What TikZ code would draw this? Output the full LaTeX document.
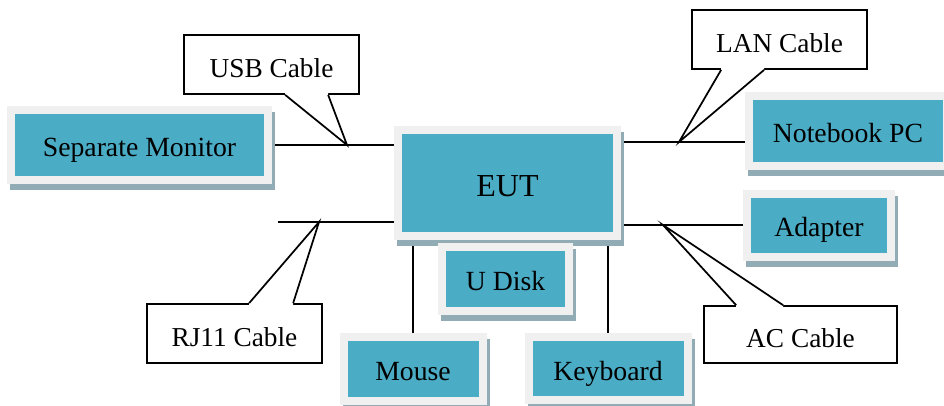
\documentclass[tikz,border=0pt]{standalone}
\usepackage{fontspec}
\setmainfont{Liberation Serif}
\usetikzlibrary{calc,backgrounds}
\definecolor{boxteal}{HTML}{4BACC6}
\definecolor{boxframe}{HTML}{F0F0F0}
\definecolor{boxshadow}{HTML}{92ACB6}

\begin{document}
\begin{tikzpicture}[x=0.75pt, y=-0.75pt,
  device/.style={rectangle, fill=boxteal, inner sep=0pt, outer sep=6pt,
                 font=\fontsize{20.8}{25}\selectfont, text height=19pt, text depth=1.5pt,
                 preaction={draw=boxshadow, fill=boxshadow, line width=12pt,
                            transform canvas={shift={(3,6)}}},
                 preaction={draw=boxframe, line width=12pt}},
  cable/.style={line width=1.3pt},
  tag/.style={rectangle, draw, fill=white, line width=1.3pt,
              inner sep=0pt, font=\fontsize{20.5}{25}\selectfont,
              text height=20.5pt, text depth=1.5pt,
              minimum width=131.25pt, minimum height=44.25pt},
  pointer/.style={line width=1.3pt, line join=miter},
]
  \useasboundingbox (0,0) rectangle (944,405);

  % Equipment under test and its peripherals
  \node[device, minimum width=158.25pt, minimum height=73.5pt,
        font=\fontsize{24}{28}\selectfont, text height=22pt, text depth=1.7pt] (eut) at (507.5,183) {EUT};
  \node[device, minimum width=186.75pt, minimum height=46.5pt] (monitor) at (139.5,145) {Separate Monitor};
  \node[device, minimum width=142.5pt, minimum height=46.5pt] (notebook) at (848,131) {Notebook PC};
  \node[device, minimum width=102pt, minimum height=41.25pt] (adapter) at (819,225) {Adapter};
  \node[device, minimum width=89.25pt, minimum height=42pt] (udisk) at (505.5,279) {U Disk};
  \node[device, minimum width=98.25pt, minimum height=42pt] (mouse) at (413,369) {Mouse};
  \node[device, minimum width=113.25pt, minimum height=41.25pt] (keyboard) at (608,368.5) {Keyboard};

  % Cables
  \coordinate (rjend) at (278,222);
  \coordinate (lantip) at (679,142);
  \begin{scope}[on background layer]
    \draw[cable] (monitor.east) -- (monitor.east -| eut.west);
    \draw[cable] (rjend) -- (rjend -| eut.west);
    \draw[cable] (lantip -| eut.east) -- (lantip -| notebook.west);
    \draw[cable] (adapter.west) -- (adapter.west -| eut.east);
    \draw[cable] (mouse.north) -- (mouse.north |- eut.south);
    \draw[cable] (keyboard.north) -- (keyboard.north |- eut.south);
  \end{scope}

  % Cable labels
  \coordinate (usbtip) at (347,145);
  \coordinate (rjtip) at (319,222);
  \coordinate (actip) at (663,225);
  \node[tag] (usb) at (271.5,64.5) {USB Cable};
  \node[tag] (lan) at (779.5,39.5) {LAN Cable};
  \node[tag] (rj) at (234.5,333.5) {RJ11 Cable};
  \node[tag, minimum width=144.75pt, minimum height=42.75pt] (ac) at (800.5,334.5) {AC Cable};

  % Pointers from the labels to the cables
  \fill[white] ($(usb.south west)+(102,-2)$) -- ($(usb.south west)+(102,0)$) -- (usbtip)
    -- ($(usb.south west)+(145,0)$) -- ($(usb.south west)+(145,-2)$) -- cycle;
  \draw[pointer] ($(usb.south west)+(102,0)$) -- (usbtip) -- ($(usb.south west)+(145,0)$);
  \fill[white] ($(lan.south west)+(30,-2)$) -- ($(lan.south west)+(30,0)$) -- (lantip)
    -- ($(lan.south west)+(73,0)$) -- ($(lan.south west)+(73,-2)$) -- cycle;
  \draw[pointer] ($(lan.south west)+(30,0)$) -- (lantip) -- ($(lan.south west)+(73,0)$);
  \fill[white] ($(rj.north west)+(103,2)$) -- ($(rj.north west)+(103,0)$) -- (rjtip)
    -- ($(rj.north west)+(147,0)$) -- ($(rj.north west)+(147,2)$) -- cycle;
  \draw[pointer] ($(rj.north west)+(103,0)$) -- (rjtip) -- ($(rj.north west)+(147,0)$);
  \fill[white] ($(ac.north west)+(33,2)$) -- ($(ac.north west)+(33,0)$) -- (actip)
    -- ($(ac.north west)+(80,0)$) -- ($(ac.north west)+(80,2)$) -- cycle;
  \draw[pointer] ($(ac.north west)+(33,0)$) -- (actip) -- ($(ac.north west)+(80,0)$);
\end{tikzpicture}
\end{document}
